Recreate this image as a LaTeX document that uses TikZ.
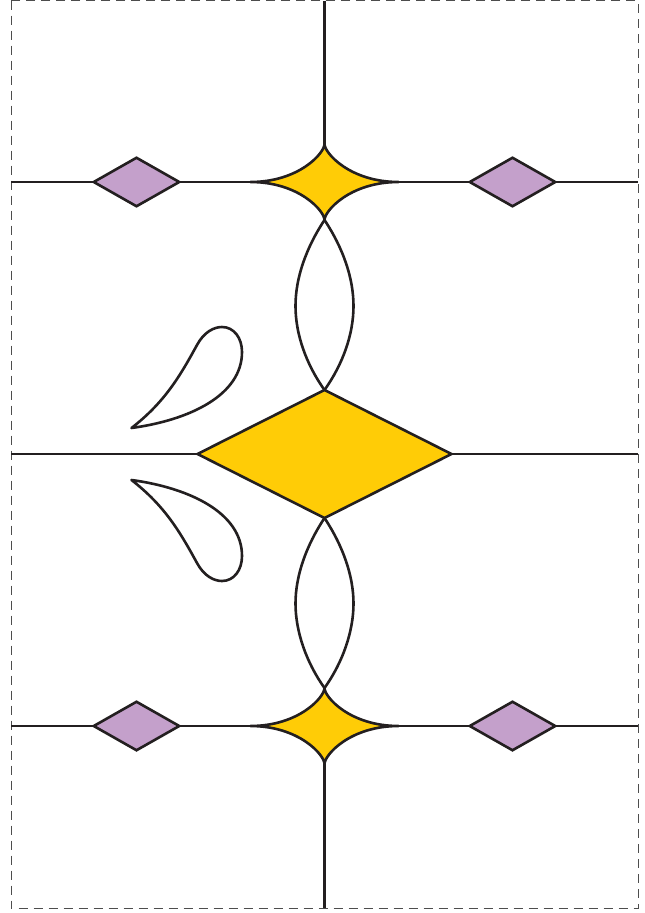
\documentclass[tikz,border=0pt]{standalone}
\usepackage{xcolor}
\definecolor{cInk}{HTML}{231F20}
\definecolor{cGold}{HTML}{FFCC06}
\definecolor{cLilac}{HTML}{C4A0CB}
\definecolor{cFrame}{HTML}{4D4D4D}
\usetikzlibrary{positioning,shapes.geometric}
\tikzset{
  node-gem/.style={diamond,draw=cInk,line width=2.6pt,inner sep=0pt,outer sep=0pt,
    minimum width=254pt,minimum height=128pt,fill=cGold},
  node-small/.style={diamond,draw=cInk,line width=2.6pt,inner sep=0pt,outer sep=0pt,
    minimum width=85.5pt,minimum height=48.5pt,fill=cLilac},
  curve-ink/.style={draw=cInk,line width=2.6pt,line join=round},
  star-fill/.style={curve-ink,fill=cGold},
  frame-line/.style={draw=cFrame,line width=1pt,dash pattern=on 9pt off 6pt},
}
\begin{document}
\begin{tikzpicture}[x=1pt,y=-1pt]
  \useasboundingbox (0,0) rectangle (645,913);
  \draw[frame-line] (11,0.5) rectangle (638,908);
  % hubs and border ends
  \coordinate (hub-mid) at (324.5,454);
  \coordinate[above=272pt of hub-mid] (hub-top);
  \coordinate[below=272pt of hub-mid] (hub-bot);
  \coordinate (end-n) at (324.5,0.5);
  \coordinate (end-s) at (324.5,908);
  \coordinate (end-tl) at (11,182);
  \coordinate (end-tr) at (638,182);
  \coordinate (end-ml) at (11,454);
  \coordinate (end-mr) at (638,454);
  \coordinate (end-bl) at (11,726);
  \coordinate (end-br) at (638,726);
  % star tips
  \coordinate[above=38pt of hub-top] (top-n);
  \coordinate[below=38pt of hub-top] (top-s);
  \coordinate[left=74pt of hub-top] (top-w);
  \coordinate[right=74pt of hub-top] (top-e);
  \coordinate[above=38pt of hub-bot] (bot-n);
  \coordinate[below=38pt of hub-bot] (bot-s);
  \coordinate[left=74pt of hub-bot] (bot-w);
  \coordinate[right=74pt of hub-bot] (bot-e);
  % straight lines
  \draw[curve-ink] (end-tl) -- (end-tr);
  \draw[curve-ink] (end-ml) -- (end-mr);
  \draw[curve-ink] (end-bl) -- (end-br);
  \draw[curve-ink] (end-n) -- (top-n);
  \draw[curve-ink] (bot-s) -- (end-s);
  % diamonds
  \node[node-gem] (gem-mid) at (hub-mid) {};
  \node[node-small,left=145.25pt of hub-top] (small-tl) {};
  \node[node-small,right=145.25pt of hub-top] (small-tr) {};
  \node[node-small,left=145.25pt of hub-bot] (small-bl) {};
  \node[node-small,right=145.25pt of hub-bot] (small-br) {};
  % stars
  \draw[star-fill] (top-n) .. controls (324.5,153) and (350,182) .. (top-e)
    .. controls (350,182) and (324.5,211) .. (top-s)
    .. controls (324.5,211) and (299,182) .. (top-w)
    .. controls (299,182) and (324.5,153) .. cycle;
  \draw[star-fill] (bot-n) .. controls (324.5,697) and (350,726) .. (bot-e)
    .. controls (350,726) and (324.5,755) .. (bot-s)
    .. controls (324.5,755) and (299,726) .. (bot-w)
    .. controls (299,726) and (324.5,697) .. cycle;
  % lenses
  \draw[curve-ink] (top-s) .. controls (306,248) and (295.5,278) .. (295.5,306)
    .. controls (295.5,334) and (306,364) .. (gem-mid.north);
  \draw[curve-ink] (top-s) .. controls (343,248) and (353.5,278) .. (353.5,306)
    .. controls (353.5,334) and (343,364) .. (gem-mid.north);
  \draw[curve-ink] (gem-mid.south) .. controls (306,546) and (295.5,576) .. (295.5,603.5)
    .. controls (295.5,631) and (306,662) .. (bot-n);
  \draw[curve-ink] (gem-mid.south) .. controls (343,546) and (353.5,576) .. (353.5,603.5)
    .. controls (353.5,631) and (343,662) .. (bot-n);
  % drops
  \draw[curve-ink] (131.5,428) .. controls (165,402) and (180,376) .. (197,345)
    .. controls (204,332) and (214,327) .. (222,327)
    .. controls (234,327) and (242,338) .. (242,352)
    .. controls (242,395) and (190,420) .. cycle;
  \draw[curve-ink] (131.5,480) .. controls (165,506) and (180,532) .. (197,563)
    .. controls (204,576) and (214,581) .. (222,581)
    .. controls (234,581) and (242,570) .. (242,556)
    .. controls (242,513) and (190,488) .. cycle;
\end{tikzpicture}
\end{document}
